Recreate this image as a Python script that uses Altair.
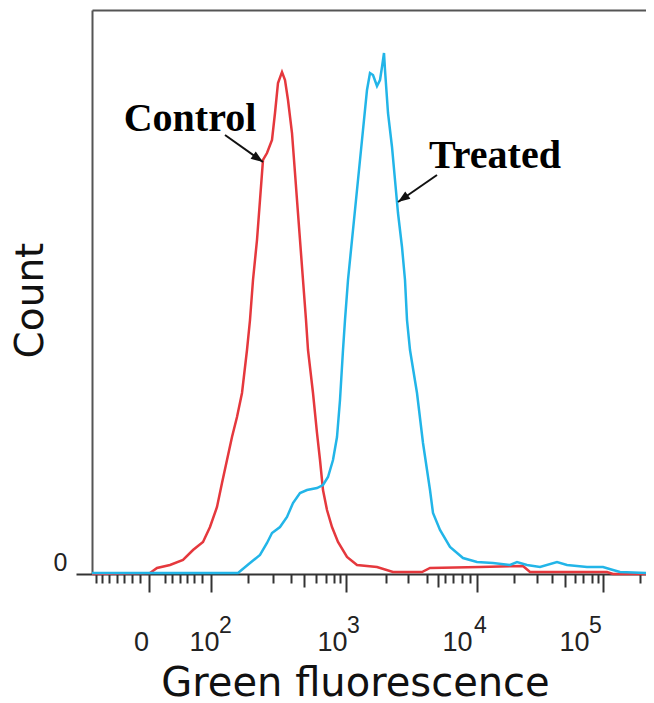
import altair as alt
import pandas as pd

# ---- data (display channel units on x, counts on y) ----
control_ch = [0, 116, 130, 156, 182, 202, 222, 236, 250, 260, 270, 280, 290, 300, 310, 316, 322,
              330, 336, 342, 350, 360, 366, 372, 380, 386, 392, 400, 406, 410, 416, 422, 428, 432,
              442, 450, 456, 462, 470, 480, 492, 510, 530, 570, 602, 660, 676, 776, 862, 876, 1030,
              1042, 1108]
control_count = [0, 0.5, 3, 4.5, 7, 12, 16, 23.5, 33.5, 45.5, 57, 68.5, 78.5, 90.5, 112, 127, 147,
                 167, 187, 207, 210.5, 217, 230.5, 245.5, 251, 247, 237, 220.5, 200.5, 187, 167, 147,
                 127, 112, 90.5, 70.5, 57, 42, 32, 23.5, 16, 8.5, 4.5, 3.5, 1, 1, 3, 3.5, 4, 1, 1,
                 0, 0]

treated_ch = [0, 292, 316, 336, 350, 360, 376, 390, 402, 416, 430, 450, 462, 472, 482, 490, 496,
              502, 506, 512, 522, 532, 542, 550, 556, 562, 570, 576, 580, 584, 586, 592, 600, 606,
              612, 620, 626, 630, 636, 650, 662, 676, 682, 696, 716, 742, 770, 802, 836, 850, 870,
              896, 930, 950, 990, 1022, 1042, 1056, 1108]
treated_count = [0.5, 0.5, 5.5, 9.5, 15.5, 20.5, 23.5, 28.5, 35.5, 40.5, 42, 43, 44.5, 48.5, 57,
                 68.5, 87, 112, 127, 147, 172, 197, 222, 242, 250.5, 249.5, 244, 247, 253.5, 260.5,
                 252, 230.5, 213.5, 197, 180.5, 163.5, 147, 127, 112, 90.5, 65.5, 42, 30.5, 22,
                 13.5, 8, 6, 5.5, 4.5, 6, 4.5, 3.5, 6, 4.5, 3.5, 3.5, 2, 1, 0.5]

# annotations
ann_label = ["Control", "Treated"]
ann_text_ch = [196, 806]
ann_text_count = [221.5, 203]
arrow_from_ch = [266, 690]
arrow_from_count = [219.5, 199.5]
arrow_to_ch = [342, 612]
arrow_to_count = [206, 186]
arrow_angle = [35, 145]

# axis ticks (display channels)
major_ticks = [114, 238, 508, 770, 1022]
medium_ticks = [424, 692, 946]
minor_ticks = [8, 20, 34, 50, 64, 80, 96, 146, 160, 176, 190, 204, 220, 312, 362, 398, 448, 468,
               484, 496, 588, 632, 670, 706, 722, 740, 756, 844, 890, 920, 966, 982, 1000, 1012,
               1096]
# tick labels: base part and exponent part
base_pos = [98, 224, 480, 730, 964]
base_text = ["0", "10", "10", "10", "10"]
exp_pos = [266, 522, 776, 1006]
exp_text = ["2", "3", "4", "5"]
y_ticks = [0]

RED = "#e5383d"
CYAN = "#22b5e8"
AX = "#333333"
FRAME = "#555555"

df_c = pd.DataFrame({"ch": control_ch, "count": control_count})
df_t = pd.DataFrame({"ch": treated_ch, "count": treated_count})
df_a = pd.DataFrame({"label": ann_label, "tx": ann_text_ch, "ty": ann_text_count,
                     "x1": arrow_from_ch, "y1": arrow_from_count,
                     "x2": arrow_to_ch, "y2": arrow_to_count, "ang": arrow_angle})

xs = alt.Scale(domain=[0, 1108], nice=False, zero=False)
ys = alt.Scale(domain=[0, 282], nice=False, zero=False)


def lookup_expr(pos, txt):
    return " : ".join(f"datum.value == {p} ? '{t}'" for p, t in zip(pos, txt)) + " : ''"


ax_major = alt.Axis(orient="bottom", values=major_ticks, tickSize=18, tickWidth=2, tickColor=AX,
                    labels=False, domain=True, domainColor=AX, domainWidth=2, grid=False, title=None)
ax_minor = alt.Axis(orient="bottom", values=minor_ticks, tickSize=9, tickWidth=2, tickColor=AX,
                    labels=False, domain=False, grid=False, title=None)
ax_medium = alt.Axis(orient="bottom", values=medium_ticks, tickSize=13, tickWidth=2, tickColor=AX,
                     labels=False, domain=False, grid=False, title=None)
ax_base = alt.Axis(orient="bottom", values=base_pos, ticks=False, tickSize=0, labels=True,
                   labelExpr=lookup_expr(base_pos, base_text), labelFont="Liberation Sans",
                   labelFontSize=27, labelColor="#222222", labelPadding=76,
                   labelBaseline="alphabetic", labelOverlap=False, labelFlush=False,
                   labelBound=False, domain=False, grid=False,
                   title="Green fluorescence", titleFont="DejaVu Sans", titleFontSize=40,
                   titleFontWeight="normal", titleColor="#111111", titleX=263, titleY=121,
                   titleAlign="center", titleBaseline="alphabetic")
ax_exp = alt.Axis(orient="bottom", values=exp_pos, ticks=False, tickSize=0, labels=True,
                  labelExpr=lookup_expr(exp_pos, exp_text), labelFont="Liberation Sans",
                  labelFontSize=23, labelColor="#222222", labelPadding=58,
                  labelBaseline="alphabetic", labelOverlap=False, labelFlush=False,
                  labelBound=False, domain=False, grid=False, title=None)
ax_top = alt.Axis(orient="top", ticks=False, labels=False, domain=True, domainColor=FRAME,
                  domainWidth=2, grid=False, title=None)
ax_y = alt.Axis(orient="left", values=y_ticks, tickSize=16, tickWidth=2, tickColor=AX,
                labelFont="Liberation Sans", labelFontSize=25, labelColor="#222222",
                labelPadding=9, labelBaseline="alphabetic", labelOffset=-4,
                domain=True, domainColor=FRAME, domainWidth=2, grid=False,
                title="Count", titleFont="DejaVu Sans", titleFontSize=39,
                titleFontWeight="normal", titleColor="#111111", titleX=-50, titleY=290,
                titleAlign="center", titleBaseline="alphabetic", titleAngle=-90)

control = alt.Chart(df_c).mark_line(color=RED, strokeWidth=2.5).encode(
    x=alt.X("ch:Q", scale=xs, axis=ax_major),
    y=alt.Y("count:Q", scale=ys, axis=ax_y),
)
treated = alt.Chart(df_t).mark_line(color=CYAN, strokeWidth=2.5).encode(
    x=alt.X("ch:Q", scale=xs, axis=ax_minor),
    y=alt.Y("count:Q", scale=ys, axis=None),
)
arrows = alt.Chart(df_a).mark_rule(color="#111111", strokeWidth=2).encode(
    x=alt.X("x1:Q", scale=xs, axis=ax_medium),
    x2="x2:Q",
    y=alt.Y("y1:Q", scale=ys, axis=None),
    y2="y2:Q",
)
heads = alt.Chart(df_a).mark_point(shape="M0,0L-2,-0.75L-2,0.75Z", filled=True, size=144,
                                   color="#111111", opacity=1).encode(
    x=alt.X("x2:Q", scale=xs, axis=ax_base),
    y=alt.Y("y2:Q", scale=ys, axis=None),
    angle=alt.Angle("ang:Q", scale=None),
)
text_style = dict(font="Liberation Serif", fontWeight="bold", fontSize=40,
                  align="center", baseline="alphabetic", color="#000000")
text_control = alt.Chart(df_a).transform_filter(alt.datum.label == "Control").mark_text(
    **text_style).encode(
    x=alt.X("tx:Q", scale=xs, axis=ax_top),
    y=alt.Y("ty:Q", scale=ys, axis=None),
    text="label:N",
)
text_treated = alt.Chart(df_a).transform_filter(alt.datum.label == "Treated").mark_text(
    **text_style).encode(
    x=alt.X("tx:Q", scale=xs, axis=ax_exp),
    y=alt.Y("ty:Q", scale=ys, axis=None),
    text="label:N",
)

chart = alt.layer(control, treated, arrows, heads, text_control, text_treated).resolve_axis(
    x="independent", y="independent"
).properties(
    width=554, height=564,
    autosize=alt.AutoSizeParams(type="none"),
    padding={"left": 84, "top": 2, "right": 0, "bottom": 129},
).configure_view(stroke=None)

chart.save("out.html", embed_options={"renderer": "svg", "actions": False})
